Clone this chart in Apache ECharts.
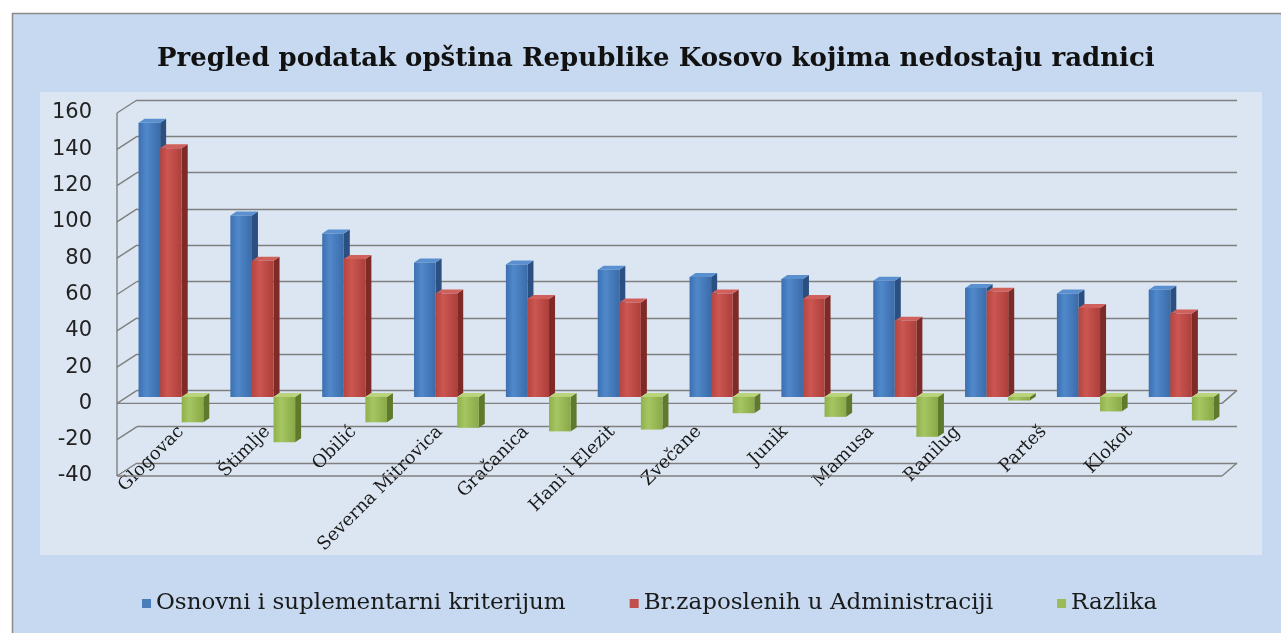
<!DOCTYPE html>
<html>
<head>
<meta charset="utf-8">
<script src="https://cdn.jsdelivr.net/npm/echarts@6/dist/echarts.min.js"></script>
<style>
  html, body { margin: 0; padding: 0; background: #ffffff; }
  #chart { width: 1281px; height: 633px; }
</style>
</head>
<body>
<div id="chart"></div>
<script>
// Municipalities and their staffing figures
const categories = ['Glogovac', 'Štimlje', 'Obilić', 'Severna Mitrovica', 'Gračanica', 'Hani i Elezit',
                    'Zvečane', 'Junik', 'Mamusa', 'Ranilug', 'Parteš', 'Klokot'];
const osnovni   = [151, 100, 90, 74, 73, 70, 66, 65, 64, 60, 57, 59];
const zaposleni = [137, 75, 76, 57, 54, 52, 57, 54, 42, 58, 49, 46];
const razlika   = [-14, -25, -14, -17, -19, -18, -9, -11, -22, -2, -8, -13];
const seriesNames = ['Osnovni i suplementarni kriterijum', 'Br.zaposlenih u Administraciji', 'Razlika'];

const yMin = -40, yMax = 160, yStep = 20;

const palette = [
  { front: ['#3c6fb0', '#5089cb', '#3b6ba9'], side: '#2a4f80', top: '#5a8fd0', legend: '#4a7ebb' },
  { front: ['#b5443f', '#cc5652', '#ad3f3b'], side: '#7e2a27', top: '#d0605c', legend: '#c0504d' },
  { front: ['#8fb04a', '#a5c662', '#8aa947'], side: '#5f7a2c', top: '#b9d47a', legend: '#9bbb59' }
];

// depth offset of the 3D columns
const DX = 6, DY = 4;

function columnRenderer(idx) {
  const col = palette[idx];
  return function (params, api) {
    const cat = api.value(0);
    const v = api.value(1);
    const p = api.coord([cat, v]);
    const z = api.coord([cat, 0]);
    const band = api.size([1, 0])[0];
    const bw = band * 0.235;
    const x0 = p[0] - 1.5 * bw + idx * bw;
    const yTop = Math.min(p[1], z[1]);
    const yBot = Math.max(p[1], z[1]);
    const x1 = x0 + bw;
    return {
      type: 'group',
      children: [
        {
          type: 'polygon',
          shape: { points: [[x1, yTop], [x1 + DX, yTop - DY], [x1 + DX, yBot - DY], [x1, yBot]] },
          style: { fill: col.side }
        },
        {
          type: 'polygon',
          shape: { points: [[x0, yTop], [x0 + DX, yTop - DY], [x1 + DX, yTop - DY], [x1, yTop]] },
          style: { fill: col.top }
        },
        {
          type: 'rect',
          shape: { x: x0, y: yTop, width: bw, height: yBot - yTop },
          style: {
            fill: new echarts.graphic.LinearGradient(0, 0, 1, 0, [
              { offset: 0, color: col.front[0] },
              { offset: 0.35, color: col.front[1] },
              { offset: 1, color: col.front[2] }
            ])
          }
        }
      ]
    };
  };
}

// side wall and floor edges of the 3D plot box
function wallRenderer(params, api) {
  const cs = params.coordSys;
  const lines = [];
  const lineStyle = { stroke: '#7f7f7f', lineWidth: 1.4 };
  const fx = cs.x - 20, fdy = 13;
  for (let v = yMin; v <= yMax; v += yStep) {
    const yb = api.coord([0, v])[1];
    lines.push({ type: 'line', shape: { x1: cs.x, y1: yb, x2: fx, y2: yb + fdy }, style: lineStyle });
  }
  lines.push({ type: 'line', shape: { x1: fx, y1: cs.y + fdy, x2: fx, y2: cs.y + cs.height + fdy }, style: lineStyle });
  [0, yMin].forEach(function (v) {
    const yb = api.coord([0, v])[1];
    const xr = cs.x + cs.width;
    lines.push({ type: 'line', shape: { x1: fx, y1: yb + fdy, x2: xr - 15, y2: yb + fdy }, style: lineStyle });
    lines.push({ type: 'line', shape: { x1: xr, y1: yb, x2: xr - 15, y2: yb + fdy }, style: lineStyle });
  });
  return { type: 'group', children: lines };
}

const chart = echarts.init(document.getElementById('chart'));

function catAxis(gridIndex, extra) {
  return Object.assign({
    type: 'category', gridIndex: gridIndex, data: categories,
    axisLine: { show: false }, axisTick: { show: false }, axisLabel: { show: false }, splitLine: { show: false }
  }, extra || {});
}
function valAxis(gridIndex, extra) {
  return Object.assign({
    type: 'value', gridIndex: gridIndex, min: yMin, max: yMax, interval: yStep,
    axisLine: { show: false }, axisTick: { show: false }, axisLabel: { show: false }, splitLine: { show: false }
  }, extra || {});
}

const option = {
  backgroundColor: '#ffffff',
  animation: false,
  graphic: [
    {
      type: 'rect', z: -20,
      shape: { x: 12.5, y: 13.5, width: 1280, height: 630 },
      style: { fill: '#c6d9f0', stroke: '#8a8a8a', lineWidth: 1.5 }
    },
    {
      type: 'rect', z: -19,
      shape: { x: 40, y: 92, width: 1222, height: 463 },
      style: { fill: '#dce6f2' }
    }
  ],
  title: {
    text: 'Pregled podatak opština Republike Kosovo kojima nedostaju radnici',
    left: 152,
    top: 41,
    textStyle: { fontFamily: 'DejaVu Serif', fontWeight: 'bold', fontSize: 26, color: '#111111' }
  },
  legend: {
    bottom: 13,
    left: 137,
    icon: 'rect',
    itemWidth: 9,
    itemHeight: 9,
    itemGap: 64,
    textStyle: { fontFamily: 'DejaVu Serif', fontSize: 23, color: '#1a1a1a' },
    data: seriesNames
  },
  grid: [
    { left: 137, right: 44, top: 100, height: 363 },   // back wall
    { left: 125, right: 54, top: 106.5, height: 363 }, // columns
    { left: 117, right: 59, top: 113, height: 363 },   // front edge, value labels
    { left: 138, right: 108, top: 100, bottom: 208 }   // category labels
  ],
  xAxis: [
    catAxis(0),
    catAxis(1),
    catAxis(2),
    catAxis(3, {
      axisLabel: {
        show: true, rotate: 45, margin: 4, interval: 0,
        fontFamily: 'DejaVu Serif', fontSize: 18, color: '#1a1a1a'
      }
    })
  ],
  yAxis: [
    valAxis(0, { splitLine: { show: true, lineStyle: { color: '#7f7f7f', width: 1.4 } } }),
    valAxis(1),
    valAxis(2, {
      axisLabel: {
        show: true, margin: 25,
        fontFamily: 'DejaVu Sans', fontSize: 21, color: '#222222'
      }
    }),
    valAxis(3)
  ],
  series: [
    {
      type: 'custom', name: 'wall', xAxisIndex: 0, yAxisIndex: 0, z: 1,
      renderItem: wallRenderer, data: [[0, 0]], silent: true
    }
  ].concat([osnovni, zaposleni, razlika].map(function (vals, idx) {
    return {
      type: 'custom',
      name: seriesNames[idx],
      xAxisIndex: 1, yAxisIndex: 1, z: 3 + idx,
      itemStyle: { color: palette[idx].legend },
      renderItem: columnRenderer(idx),
      encode: { x: 0, y: 1 },
      data: vals.map(function (v, i) { return [i, v]; })
    };
  }))
};

chart.setOption(option);
</script>
</body>
</html>
